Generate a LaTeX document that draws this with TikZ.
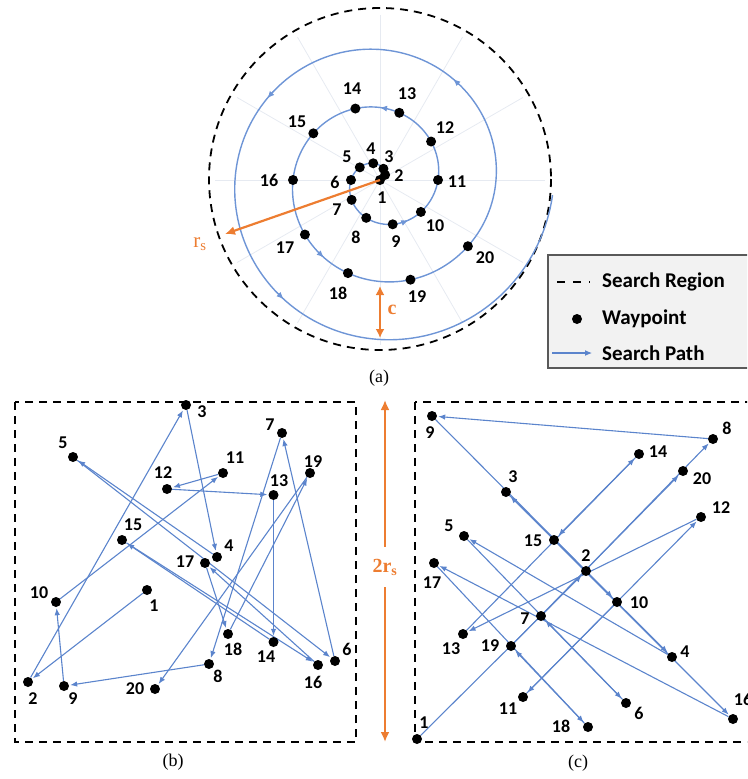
\documentclass[tikz,border=0pt]{standalone}
\usepackage{fontspec}
\setmainfont{Liberation Serif}
\newfontfamily\lblfont{Carlito}
\usetikzlibrary{arrows.meta}
\pgfdeclarelayer{bglayer}
\pgfsetlayers{bglayer,main}
\definecolor{pathblue}{HTML}{5B84CC}
\definecolor{spiralblue}{HTML}{6E95D6}
\definecolor{orng}{HTML}{ED7D31}
\definecolor{gridc}{HTML}{E6EAF1}
\definecolor{legfill}{HTML}{F2F2F2}
\definecolor{legdraw}{HTML}{595959}
\begin{document}
\begin{tikzpicture}[x=1pt,y=-1pt,
  wp/.style={circle,fill=black,inner sep=0pt,minimum size=10pt},
  num/.style={font=\lblfont\bfseries\fontsize{18}{18}\selectfont,inner sep=0pt},
  legtext/.style={font=\lblfont\bfseries\fontsize{21}{21}\selectfont,inner sep=0pt,anchor=west},
  captext/.style={font=\fontsize{18}{18}\selectfont,inner sep=0pt},
  orlabel/.style={orng,font=\bfseries\fontsize{20}{20}\selectfont,inner sep=0pt},
  trail/.style={pathblue,line width=1.1pt,-{Latex[length=7pt,width=5.5pt]},shorten >=1pt},
  region/.style={black,line width=1.8pt,dash pattern=on 8pt off 6pt},
  orarrow/.style={orng,line width=2.2pt},
  spiral/.style={spiralblue,line width=1.4pt}
]
\useasboundingbox (0,0) rectangle (747,779);
\clip (0,0) rectangle (747,779);

% ---------------- panel (a) ----------------
\foreach \a in {0,30,...,330}
  \draw[gridc,line width=0.8pt] (380,180) -- ++({165*cos(\a)},{-165*sin(\a)});
\draw[region] (380,179) circle[radius=171];
\draw[spiral] plot[domain=0:1075,samples=500,variable=\t]
  ({380+0.16111*\t*cos(\t)},{180-0.16111*\t*sin(\t)});
\foreach \t in {305,450,594,774,864,951}
  \draw[spiralblue,line width=1pt,-{Latex[length=7pt,width=6pt]}]
    ({380+0.16111*(\t-4)*cos(\t-4)},{180-0.16111*(\t-4)*sin(\t-4)}) --
    ({380+0.16111*\t*cos(\t)},{180-0.16111*\t*sin(\t)});
\foreach \n/\t in {1/0,2/45,3/73,4/112,5/148,6/180,7/215,8/250,9/286,10/322,
  11/360,12/397,13/434,14/469,15/505,16/540,17/576,18/611,19/647,20/683}
  \node[wp] (a\n) at ({380+0.16111*\t*cos(\t)},{180-0.16111*\t*sin(\t)}) {};
\foreach \n/\x/\y in {1/382/198,2/399/176,3/389/157,4/371/149,5/347/157,6/335/182,
  7/337/210,8/356/237,9/396/242,10/435/226,11/457/182,12/445/128,13/407/94,
  14/352/89,15/297/122,16/269/180,17/285/248,18/338/293,19/417/297,20/485/258}
  \node[num] (al\n) at (\x,\y) {\n};
% r_s arrow
\coordinate (rsend) at (225,234);
\draw[orarrow,-{Latex[length=10pt,width=9pt]}] (a1.center) -- (rsend);
\node[orlabel,font=\fontsize{21}{21}\selectfont] (rslbl) at (200,244) {r\textsubscript{s}};
% c arrow
\coordinate (ctop) at (380,286);
\coordinate (cbot) at (380,338);
\draw[orarrow,{Latex[length=9pt,width=9pt]}-{Latex[length=9pt,width=9pt]}] (ctop) -- (cbot);
\node[orlabel] (clbl) at (392,310) {c};
\node[captext] (capa) at (379,378) {(a)};

% ---------------- legend ----------------
\draw[legdraw,fill=legfill,line width=1.3pt] (548,255) rectangle (770,368);
\coordinate (lgd1) at (557,282);
\coordinate (lgd2) at (590,282);
\draw[black,line width=2pt,dash pattern=on 8pt off 8pt] (lgd1) -- (lgd2);
\node[legtext] (lgt1) at (602,282) {Search Region};
\node[wp] (lgdot) at (577,319) {};
\node[legtext] (lgt2) at (602,319) {Waypoint};
\coordinate (lga1) at (552,353);
\coordinate (lga2) at (592,353);
\draw[pathblue,line width=1.1pt,-{Latex[length=7pt,width=6pt]}] (lga1) -- (lga2);
\node[legtext] (lgt3) at (602,353) {Search Path};

% ---------------- panel (b) ----------------
\draw[region] (15,402) rectangle (356,742);
\foreach \n/\x/\y in {1/147/590,2/28/682,3/186/405,4/217/557,5/73/457,6/335/661,
  7/282/433,8/209/664,9/64/686,10/56/602,11/223/473,12/167/489,13/273.5/495,
  14/273.5/642,15/122/540,16/318/665,17/205/563,18/228/634,19/310/473,20/155/689}
  \node[wp] (b\n) at (\x,\y) {};
\foreach \n/\x/\y in {1/154/606,2/33/699,3/202/412,4/229/546,5/63/443,6/347/649,
  7/270/425,8/218/676,9/73/699,10/39/593,11/235/458,12/163/473,13/279/481,
  14/266/657,15/133/525,16/313/682,17/185/562,18/233/649,19/313/462,20/135/689}
  \node[num] (bl\n) at (\x,\y) {\n};
\begin{pgfonlayer}{bglayer}
\foreach \i [count=\j from 2] in {1,...,19}
  \draw[trail] (b\i) -- (b\j);
\end{pgfonlayer}
\node[captext] (capb) at (173,762) {(b)};

% ---------------- 2 r_s arrow ----------------
\node[orlabel,minimum height=40pt] (lbl2rs) at (385,567) {2r\textsubscript{s}};
\coordinate (twotop) at (385,400);
\coordinate (twobot) at (385,742);
\draw[orarrow,-{Latex[length=10pt,width=9pt]}] (lbl2rs) -- (twotop);
\draw[orarrow,-{Latex[length=10pt,width=9pt]}] (lbl2rs) -- (twobot);

% ---------------- panel (c) ----------------
\draw[region] (415,402) rectangle (790,742);
\foreach \n/\x/\y in {1/417/739,2/586/571,3/506/492,4/672/657,5/464/536,6/626/703,
  7/541/616,8/713/439,9/432/416,10/617/602,11/523/697,12/701/517,13/463/634,
  14/639/454,15/554/540,16/733/719,17/434/563,18/588/727,19/511/646,20/683/471}
  \node[wp] (c\n) at (\x,\y) {};
\foreach \n/\x/\y in {1/424/723,2/586/556,3/513/477,4/685/652,5/449/526,6/639/713,
  7/525/619,8/727/428,9/430/433,10/639/603,11/508/709,12/721/508,13/451/649,
  14/658/452,15/533/541,16/743/699,17/432/583,18/561/726,19/490/646,20/702/479}
  \node[num] (cl\n) at (\x,\y) {\n};
\begin{pgfonlayer}{bglayer}
\foreach \i [count=\j from 2] in {1,...,19}
  \draw[trail] (c\i) -- (c\j);
\end{pgfonlayer}
\node[captext] (capc) at (578,763) {(c)};
\end{tikzpicture}
\end{document}
